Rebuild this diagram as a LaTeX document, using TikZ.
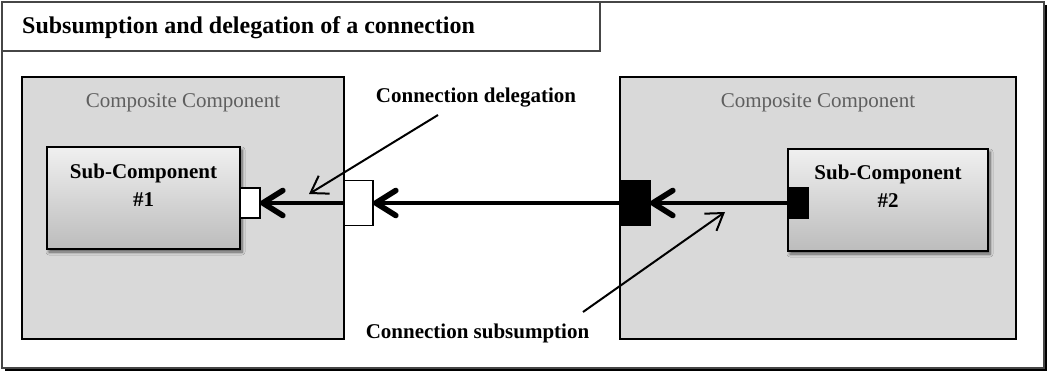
\documentclass[tikz,border=0pt]{standalone}
\usepackage{fontspec}
\setmainfont{Liberation Serif}
\usetikzlibrary{arrows.meta,shadows,shadows.blur}

\definecolor{framegray}{RGB}{70,70,70}
\definecolor{compfill}{RGB}{217,217,217}
\definecolor{subtop}{RGB}{240,240,240}
\definecolor{subbottom}{RGB}{188,188,188}
\definecolor{compgray}{RGB}{95,95,95}

\begin{document}
\begin{tikzpicture}[x=1pt,y=-1pt,
  box/.style={rectangle, inner sep=0pt, outer sep=0pt},
  outerframe/.style={box, draw=framegray, line width=1.4pt, fill=white,
    drop shadow={shadow xshift=3pt, shadow yshift=-3pt, fill=black, opacity=1}},
  titlebox/.style={box, draw=framegray, line width=1.4pt, fill=white},
  titletext/.style={inner sep=0pt, font=\bfseries\fontsize{24pt}{28pt}\selectfont},
  composite/.style={box, draw=black, line width=2.8pt, fill=compfill},
  complabel/.style={inner sep=0pt, text=compgray, font=\fontsize{21pt}{25pt}\selectfont},
  subcomp/.style={box, draw=black, line width=2pt, top color=subtop, bottom color=subbottom,
    blur shadow={shadow xshift=2pt, shadow yshift=-3pt, shadow blur radius=3pt,
      shadow blur steps=6, shadow opacity=60}},
  subtext/.style={inner sep=0pt, font=\bfseries\fontsize{21pt}{25pt}\selectfont},
  port/.style={box, draw=black, line width=1.6pt},
  mainarrow/.style={line width=4.6pt, -{Straight Barb[length=20pt,width=25pt,line width=5.6pt,round]}},
  leader/.style={line width=2pt, -{Straight Barb[length=16pt,width=21pt]}},
  leadlabel/.style={inner sep=0pt, font=\bfseries\fontsize{21pt}{25pt}\selectfont},
]
\useasboundingbox (0,0) rectangle (1047,371);

% outer frame and title tab
\node[outerframe, minimum width=1042pt, minimum height=366pt] (frame) at (523,185) {};
\node[titlebox, minimum width=598pt, minimum height=49pt] (titlebox) at (301,26.5) {};
\node[titletext, anchor=base west] (title) at (22,34) {Subsumption and delegation of a connection};

% composite components
\node[composite, minimum width=322pt, minimum height=262pt] (compL) at (183,208) {};
\node[composite, minimum width=396pt, minimum height=262pt] (compR) at (818,208) {};
\node[complabel, anchor=base] (compLlabel) at (183,108) {Composite Component};
\node[complabel, anchor=base] (compRlabel) at (818,108) {Composite Component};

% sub-components
\node[subcomp, minimum width=193pt, minimum height=102pt] (sub1) at (143.5,198) {};
\node[subcomp, minimum width=200pt, minimum height=102pt] (sub2) at (888,200) {};
\node[subtext, anchor=base] (sub1name) at (143.5,179) {Sub-Component};
\node[subtext, anchor=base] (sub1num) at (143.5,207) {\#1};
\node[subtext, anchor=base] (sub2name) at (888,180) {Sub-Component};
\node[subtext, anchor=base] (sub2num) at (888,208) {\#2};

% ports
\node[port, fill=white, minimum width=20pt, minimum height=30pt] (p1) at (250,203) {};
\node[port, fill=white, minimum width=29pt, minimum height=45pt] (pd) at (358.5,203) {};
\node[port, fill=black, minimum width=29pt, minimum height=45pt] (ps) at (635.5,203) {};
\node[port, fill=black, minimum width=20pt, minimum height=30pt] (p2) at (798,203) {};

% connections
\draw[mainarrow] (pd.west) -- (p1.east);
\draw[mainarrow] (ps.west) -- (pd.east);
\draw[mainarrow] (p2.west) -- (ps.east);

% annotations
\node[leadlabel, anchor=base] (delegLabel) at (476,103) {Connection delegation};
\node[leadlabel, anchor=base] (subsLabel) at (477.5,338) {Connection subsumption};
\coordinate (delegFrom) at (438,115);
\coordinate (delegTo) at (309,194);
\coordinate (subsFrom) at (583,312);
\coordinate (subsTo) at (725,212);
\draw[leader] (delegFrom) -- (delegTo);
\draw[leader] (subsFrom) -- (subsTo);
\end{tikzpicture}
\end{document}
